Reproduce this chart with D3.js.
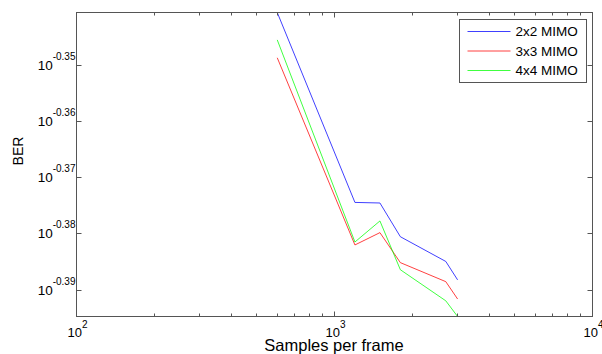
<!DOCTYPE html>
<html>
<head>
<meta charset="utf-8">
<script src="https://cdn.jsdelivr.net/npm/d3@7"></script>
<style>
  body { margin: 0; background: #fff; }
  text { font-family: "Liberation Sans", Arial, sans-serif; fill: #000; }
</style>
</head>
<body>
<div id="chart"></div>
<script>
// data
const samples = [600, 1200, 1500, 1800, 2700, 3000]
const ber2x2 = [0.4565, 0.4223, 0.4222, 0.4164, 0.4122, 0.4091]
const ber3x3 = [0.4481, 0.4150, 0.4171, 0.4120, 0.4088, 0.4059]
const ber4x4 = [0.4514, 0.4155, 0.4191, 0.4108, 0.4056, 0.4030]
const seriesNames = ['2x2 MIMO', '3x3 MIMO', '4x4 MIMO']
const xTickExps = [2, 3, 4]
const yTickExps = [-0.35, -0.36, -0.37, -0.38, -0.39]

const colors = ['#0000ff', '#ff0000', '#00ff00']
const series = [ber2x2, ber3x3, ber4x4].map((vals, i) => ({
  name: seriesNames[i],
  color: colors[i],
  points: samples.map((s, j) => ({ x: s, y: vals[j] }))
}))

const width = 602
const height = 354
const margin = { top: 12, right: 10, bottom: 38, left: 76 }
const w = width - margin.left - margin.right
const h = height - margin.top - margin.bottom

const svg = d3.select('#chart')
  .append('svg')
  .attr('width', width)
  .attr('height', height)

const g = svg.append('g')
  .attr('transform', 'translate(' + (margin.left + 0.5) + ',' + (margin.top + 0.5) + ')')

const x = d3.scaleLog()
  .domain([Math.pow(10, xTickExps[0]), Math.pow(10, xTickExps[xTickExps.length - 1])])
  .range([0, w])

const allY = [].concat(ber2x2, ber3x3, ber4x4)
const y = d3.scaleLog()
  .domain(d3.extent(allY))
  .range([h, 0])

g.append('defs').append('clipPath')
  .attr('id', 'plot-clip')
  .append('rect')
  .attr('x', 0).attr('y', 0)
  .attr('width', w).attr('height', h)

/* ------- LINES -------*/
const line = d3.line()
  .x(d => x(d.x))
  .y(d => y(d.y))

g.append('g')
  .attr('clip-path', 'url(#plot-clip)')
  .selectAll('path')
  .data(series)
  .enter()
  .append('path')
  .attr('fill', 'none')
  .attr('stroke', d => d.color)
  .attr('stroke-opacity', 0.75)
  .attr('stroke-width', 1)
  .attr('d', d => line(d.points))

/* ------- AXES BOX + TICKS -------*/
const axisColor = '#555'

g.append('rect')
  .attr('x', 0).attr('y', 0)
  .attr('width', w).attr('height', h)
  .attr('fill', 'none')
  .attr('stroke', axisColor)

const xTicks = x.ticks()
const isMajor = v => Math.abs(Math.log10(v) - Math.round(Math.log10(v))) < 1e-9

const xt = g.append('g').attr('class', 'x-ticks')
xTicks.forEach(v => {
  const len = isMajor(v) ? 5 : 3
  const px = Math.round(x(v))
  xt.append('line')
    .attr('x1', px).attr('x2', px)
    .attr('y1', h).attr('y2', h - len)
    .attr('stroke', axisColor)
  xt.append('line')
    .attr('x1', px).attr('x2', px)
    .attr('y1', 0).attr('y2', len)
    .attr('stroke', axisColor)
})

const xl = g.append('g').attr('class', 'x-labels')
xTickExps.forEach(e => {
  const t = xl.append('text')
    .attr('x', x(Math.pow(10, e)) + 1)
    .attr('y', h + 20)
    .attr('text-anchor', 'middle')
    .style('font-size', '13px')
  t.append('tspan').text('10')
  t.append('tspan')
    .attr('dy', -9)
    .style('font-size', '10px')
    .text(e)
})

const yt = g.append('g').attr('class', 'y-ticks')
yTickExps.forEach(e => {
  const py = Math.round(y(Math.pow(10, e)))
  yt.append('line')
    .attr('x1', 0).attr('x2', 5)
    .attr('y1', py).attr('y2', py)
    .attr('stroke', axisColor)
  yt.append('line')
    .attr('x1', w).attr('x2', w - 5)
    .attr('y1', py).attr('y2', py)
    .attr('stroke', axisColor)

  const t = yt.append('text')
    .attr('x', -1)
    .attr('y', py)
    .attr('dy', '0.35em')
    .attr('text-anchor', 'end')
    .style('font-size', '13.5px')
  t.append('tspan').text('10')
  t.append('tspan')
    .attr('dy', -10)
    .style('font-size', '10px')
    .text(e.toFixed(2))
})

/* ------- AXIS TITLES -------*/
svg.append('text')
  .attr('x', margin.left + w / 2)
  .attr('y', 351)
  .attr('text-anchor', 'middle')
  .style('font-size', '16.5px')
  .text('Samples per frame')

svg.append('text')
  .attr('transform', 'translate(23,151) rotate(-90)')
  .attr('text-anchor', 'middle')
  .style('font-size', '14px')
  .text('BER')

/* ------- LEGEND -------*/
const legend = svg.append('g')
  .attr('transform', 'translate(459.5,19.5)')

legend.append('rect')
  .attr('width', 127)
  .attr('height', 63)
  .attr('fill', '#fff')
  .attr('stroke', axisColor)

const item = legend.selectAll('g.item')
  .data(series)
  .enter()
  .append('g')
  .attr('class', 'item')
  .attr('transform', (d, i) => 'translate(0,' + (12 + i * 19.5) + ')')

item.append('line')
  .attr('x1', 8).attr('x2', 51)
  .attr('stroke', d => d.color)
  .attr('stroke-opacity', 0.75)

item.append('text')
  .attr('x', 56)
  .attr('dy', '0.35em')
  .style('font-size', '13.5px')
  .text(d => d.name)
</script>
</body>
</html>
